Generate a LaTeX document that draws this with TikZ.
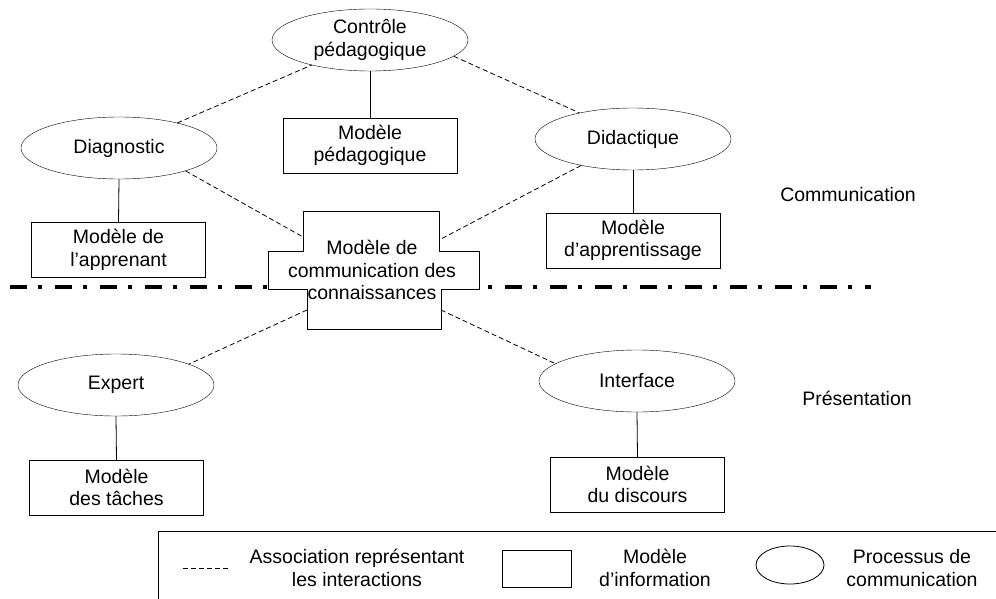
\documentclass[tikz,border=0pt]{standalone}
\usepackage{fontspec}
\setmainfont{Liberation Sans}
\usetikzlibrary{shapes.geometric}

\begin{document}
\begin{tikzpicture}[x=1pt, y=-1pt,
	every node/.style={font=\fontsize{19.5}{22.5}\selectfont},
	proc/.style={draw, ellipse, minimum width=196pt, minimum height=62pt, inner sep=0pt, align=center},
	modele/.style={draw, rectangle, minimum width=174pt, minimum height=55pt, inner sep=0pt, align=center},
	assoc/.style={line width=0.8pt, dash pattern=on 5pt off 3pt},
	lien/.style={line width=0.8pt}]
	\useasboundingbox (0,0) rectangle (996,599);
	% separation communication / presentation
	\draw[line width=4pt, dash pattern=on 17pt off 11pt on 4pt off 13pt] (10,287) -- (871,287);
	% modele de communication des connaissances
	\draw[lien, fill=white] (303,211) -- (439,211) -- (439,251) -- (479,251) -- (479,289) -- (441,289) -- (441,329)
	  -- (307,329) -- (307,289) -- (268,289) -- (268,251) -- (303,251) -- cycle;
	\node[align=center] (comm) at (372,270) {Modèle de\\communication des\\connaissances};
	\coordinate (comm-no) at (303,237);
	\coordinate (comm-ne) at (439,240);
	\coordinate (comm-so) at (307,310);
	\coordinate (comm-se) at (441,310);
	% processus et modeles
	\node[proc] (ctrl) at (370,40) {Contrôle\\pédagogique};
	\node[modele] (mped) at (370,145.5) {Modèle\\pédagogique};
	\node[proc] (diag) at (119,148) {Diagnostic};
	\node[modele] (mapp) at (118.5,250) {Modèle de\\l’apprenant};
	\node[proc] (dida) at (633,139) {Didactique};
	\node[modele] (mapr) at (633,240.5) {Modèle\\d’apprentissage};
	\node[proc] (expe) at (116,385) {Expert};
	\node[modele] (mtac) at (116.5,487.5) {Modèle\\des tâches};
	\node[proc] (intf) at (637,381) {Interface};
	\node[modele] (mdis) at (637.5,484.5) {Modèle\\du discours};
	\draw[lien] (ctrl.south) -- (mped.north);
	\draw[lien] (diag.south) -- (mapp.north);
	\draw[lien] (dida.south) -- (mapr.north);
	\draw[lien] (expe.south) -- (mtac.north);
	\draw[lien] (intf.south) -- (mdis.north);
	% interactions
	\draw[assoc] (diag) -- (ctrl);
	\draw[assoc] (ctrl.-11) -- (dida.154);
	\draw[assoc] (diag.-19) -- (comm-no);
	\draw[assoc] (dida.207) -- (comm-ne);
	\draw[assoc] (comm-so) -- (expe.16);
	\draw[assoc] (comm-se) -- (intf.168);
	\node (comlab) at (848,195) {Communication};
	\node (prelab) at (857,398) {Présentation};
	% legende
	\draw[lien] (158,531) rectangle (1000,610);
	\coordinate (lg-a) at (183,568);
	\coordinate (lg-b) at (230,568);
	\draw[assoc] (lg-a) -- (lg-b);
	\node[align=center] (lg-assoc) at (357,568) {Association représentant\\les interactions};
	\node[draw, lien, minimum width=69pt, minimum height=37pt] (lg-rect) at (536.5,568.5) {};
	\node[align=center] (lg-info) at (655,568) {Modèle\\d’information};
	\node[draw, lien, ellipse, minimum width=68pt, minimum height=38pt] (lg-ell) at (790,565) {};
	\node[align=center] (lg-proc) at (912,568) {Processus de\\communication};
\end{tikzpicture}
\end{document}
